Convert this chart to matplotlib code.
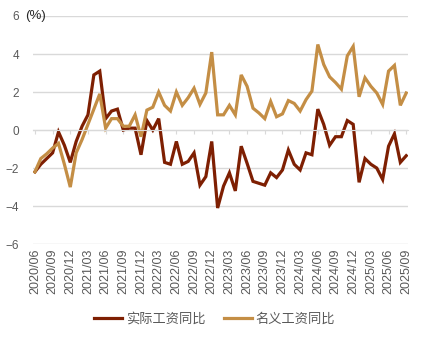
import numpy as np
import pandas as pd
import matplotlib
matplotlib.use('Agg')
import matplotlib.pyplot as plt

plt.rcParams['font.family'] = ['Liberation Sans', 'Noto Sans CJK SC', 'DejaVu Sans']

# Monthly data, 2020/06 - 2025/09
months = pd.period_range('2020-06', '2025-09', freq='M').strftime('%Y/%m').tolist()

real_wage = [-2.2, -1.8, -1.5, -1.2, -0.1, -0.8, -1.7, -0.6, 0.2, 0.8,
             2.9, 3.1, 0.6, 1.0, 1.1, 0.0, 0.1, 0.1, -1.3, 0.5,
             0.0, 0.6, -1.7, -1.8, -0.6, -1.8, -1.65, -1.2, -2.9, -2.45,
             -0.6, -4.1, -2.95, -2.25, -3.2, -0.85, -1.75, -2.7, -2.8, -2.9,
             -2.25, -2.5, -2.1, -1.05, -1.8, -2.1, -1.2, -1.3, 1.1, 0.3,
             -0.8, -0.35, -0.35, 0.5, 0.3, -2.75, -1.5, -1.8, -2.0, -2.6,
             -0.85, -0.2, -1.7, -1.35]

nominal_wage = [-2.2, -1.5, -1.25, -0.95, -0.7, -1.8, -3.0, -1.2, -0.5, 0.3,
                1.1, 1.9, 0.1, 0.6, 0.6, 0.2, 0.2, 0.8, -0.35, 1.05,
                1.2, 2.0, 1.3, 1.0, 2.0, 1.3, 1.7, 2.2, 1.35, 1.95,
                4.1, 0.8, 0.8, 1.3, 0.8, 2.9, 2.3, 1.15, 0.9, 0.6,
                1.5, 0.7, 0.85, 1.55, 1.4, 1.0, 1.6, 2.05, 4.5, 3.45,
                2.8, 2.5, 2.15, 3.9, 4.4, 1.75, 2.75, 2.3, 1.95, 1.35,
                3.1, 3.4, 1.3, 1.95]

labels = ['实际工资同比', '名义工资同比']
colors = ['#7E1F02', '#C48E45']
grey = '#595959'

fig = plt.figure(figsize=(4.25, 3.4), dpi=100)
ax = fig.add_axes([0.078, 0.282, 0.882, 0.671])

x = np.arange(len(months))
ax.plot(x, real_wage, color=colors[0], lw=2.3, label=labels[0], solid_joinstyle='miter')
ax.plot(x, nominal_wage, color=colors[1], lw=2.3, label=labels[1], solid_joinstyle='miter')

ax.set_xlim(-0.3, len(months) - 0.7)
ax.set_ylim(-6, 6)
ax.set_yticks(np.arange(-6, 7, 2))
ax.yaxis.grid(True, color='#D9D9D9', lw=1)
ax.set_axisbelow(True)
ax.tick_params(axis='y', length=0, pad=10, labelsize=8.5, labelcolor=grey)

for s in ['top', 'right', 'left']:
    ax.spines[s].set_visible(False)
ax.spines['bottom'].set_position(('data', 0))
ax.spines['bottom'].set_color('#D9D9D9')

tick_idx = list(range(0, len(months), 3))
ax.set_xticks(tick_idx)
ax.tick_params(axis='x', length=3, color='#D9D9D9', labelbottom=False)

sec = ax.secondary_xaxis('bottom')
sec.set_xticks(tick_idx, [months[i] for i in tick_idx], rotation=90)
sec.tick_params(length=0, pad=3, labelsize=9, labelcolor=grey)
sec.spines['bottom'].set_visible(False)

fig.text(0.059, 0.953, '(%)', fontsize=9.5, color='#262626', va='center', ha='left')

fig.legend(loc='center', bbox_to_anchor=(0.505, 0.062), ncol=2, frameon=False,
           fontsize=9.5, labelcolor=grey, handlelength=2.1, handletextpad=0.3,
           columnspacing=1.4)

fig.savefig('out.png', dpi=100)
